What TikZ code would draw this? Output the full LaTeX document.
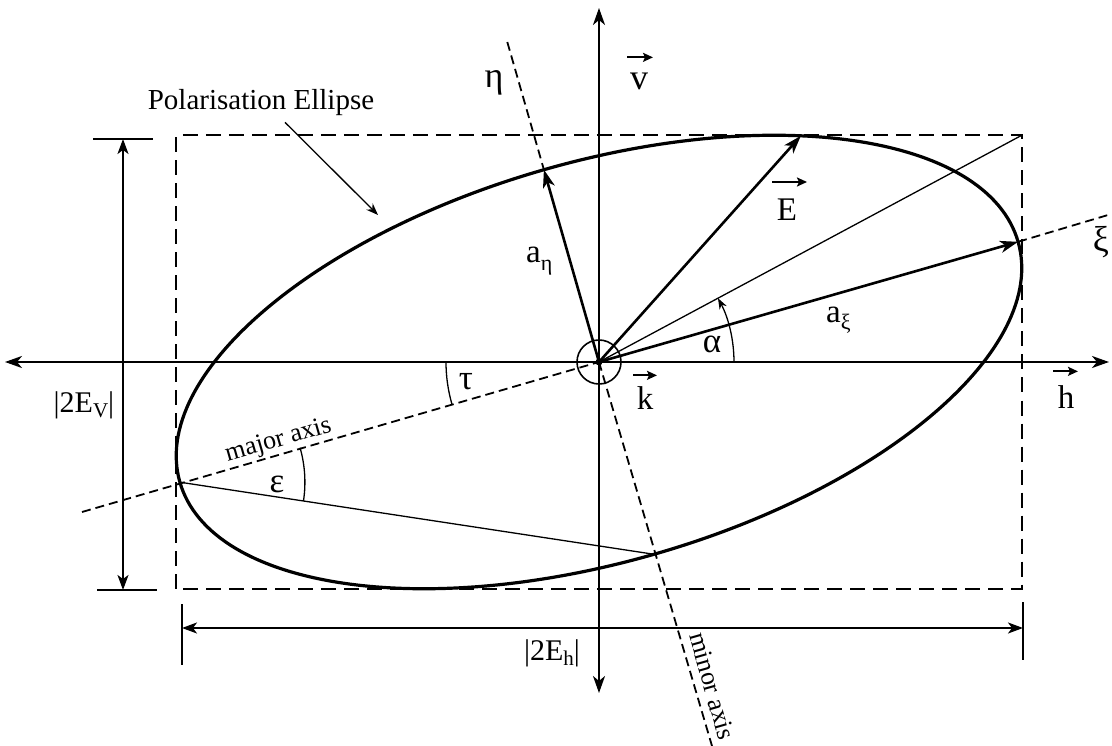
\documentclass[tikz,border=0pt]{standalone}
\usepackage{fontspec}
\setmainfont{Liberation Serif}
\usetikzlibrary{arrows.meta,calc}
\begin{document}
\begin{tikzpicture}[x=1pt,y=1pt,
  lbl/.style={font=\fontsize{33}{33}\selectfont, inner sep=0pt},
  axisline/.style={line width=2.2pt, {Stealth[length=17pt,width=12pt,inset=5pt]}-{Stealth[length=17pt,width=12pt,inset=5pt]}},
  vecarrow/.style={line width=2.6pt, -{Stealth[length=18pt,width=12pt,inset=5pt]}},
  thinline/.style={line width=1.3pt},
  axdash/.style={line width=1.8pt, dash pattern=on 9pt off 5pt},
  rectdash/.style={line width=2pt, dash pattern=on 15pt off 8pt},
  dimarrow/.style={line width=1.8pt, {Stealth[length=15pt,width=11pt,inset=4pt]}-{Stealth[length=15pt,width=11pt,inset=4pt]}},
  vecsym/.style={line width=2pt, -{Stealth[length=10pt,width=9pt,inset=2pt]}},
  ]
\useasboundingbox (0,0) rectangle (1112,-746);
\coordinate (C) at (599,-362);
\coordinate (V1) at (1018.1,-241.8);
\coordinate (V2) at (179.9,-482.2);
\coordinate (M1) at (543.9,-169.7);
\coordinate (M2) at (654.1,-554.3);
\coordinate (Et) at (800.8,-135.9);
\coordinate (TR) at (1021.7,-135.3);
\coordinate (BL) at (176.3,-588.7);
\coordinate (hL) at (5,-362);
\coordinate (hR) at (1109,-362);
\coordinate (vT) at (599,-8);
\coordinate (vB) at (599,-693);
\coordinate (majL) at (82,-512);
\coordinate (majR) at (1108,-215);
\coordinate (minT) at (507.3,-42);
\coordinate (minB) at (712,-746);
\coordinate (peTip) at (378,-215);

% bounding rectangle of the ellipse
\draw[rectdash] (BL) rectangle (TR);
% polarisation ellipse
\draw[line width=3.2pt, rotate around={16:(C)}] (C) ellipse [x radius=436, y radius=200];
% dashed principal axes
\draw[axdash] (majL) -- (C);
\draw[axdash] (V1) -- (majR);
\draw[axdash] (minT) -- (M1);
\draw[axdash] (C) -- (minB);
% h and v axes
\draw[axisline] (hL) -- (hR);
\draw[axisline] (vB) -- (vT);
% thin lines
\draw[thinline] (C) -- (TR);
\draw[thinline] (V2) -- (M2);
% angle arcs
\draw[thinline] ($(C)+(180:153)$) arc[start angle=180, end angle=196, radius=153];
\draw[thinline, -{Stealth[length=11pt,width=8pt]}] ($(C)+(0:135)$) arc[start angle=0, end angle=28.2, radius=135];
\draw[thinline] ($(V2)+(-8.65:125)$) arc[start angle=-8.65, end angle=16, radius=125];
% vectors
\draw[vecarrow] (C) -- (V1);
\draw[vecarrow] (C) -- (M1);
\draw[vecarrow] (C) -- (Et);
% centre
\draw[line width=1.6pt] (C) circle[radius=22];
\fill (C) circle[radius=3.5];

% dimension lines
\coordinate (dvT) at (123,-139);
\coordinate (dvB) at (123,-590);
\draw[line width=1.8pt] (93,-139) -- (153,-139);
\draw[line width=1.8pt] (97,-590) -- (157,-590);
\draw[dimarrow] (dvB) -- (dvT);
\coordinate (dhL) at (182,-628);
\coordinate (dhR) at (1023,-628);
\draw[line width=1.8pt] (182,-604) -- (182,-665);
\draw[line width=1.8pt] (1023,-602) -- (1023,-660);
\draw[dimarrow] (dhL) -- (dhR);

% labels
\node[lbl, font=\fontsize{29}{29}\selectfont] (pe) at (261,-103) {Polarisation Ellipse};
\draw[thinline, -{Stealth[length=12pt,width=9pt]}] ([xshift=24pt,yshift=-6pt]pe.south) -- (peTip);
\node[lbl, font=\fontsize{36}{36}\selectfont] (eta) at (494,-83) {η};
\node[lbl, font=\fontsize{36}{36}\selectfont] (xi) at (1101,-242) {ξ};
\node[lbl, font=\fontsize{36}{36}\selectfont] (v) at (639,-81) {v};
\node[lbl] (E) at (787,-210) {E};
\node[lbl] (k) at (645,-398) {k};
\node[lbl] (h) at (1066,-397) {h};
\node[lbl, font=\fontsize{35}{35}\selectfont] (al) at (712,-344) {α};
\node[lbl, font=\fontsize{35}{35}\selectfont] (tau) at (466,-382) {τ};
\node[lbl, font=\fontsize{35}{35}\selectfont] (eps) at (277,-484) {ε};
\node[lbl, anchor=base west] (axi) at (826,-323) {a\raisebox{-7pt}{\fontsize{22}{22}\selectfont ξ}};
\node[lbl, anchor=base west] (aeta) at (526,-263) {a\raisebox{-8pt}{\fontsize{22}{22}\selectfont η}};
\node[lbl, font=\fontsize{30}{30}\selectfont] (Ev) at (84,-405) {|2E\raisebox{-5pt}{\fontsize{21}{21}\selectfont V}|};
\node[lbl, font=\fontsize{30}{30}\selectfont] (Eh) at (552,-653) {|2E\raisebox{-5pt}{\fontsize{21}{21}\selectfont h}|};
\node[lbl, font=\fontsize{26}{26}\selectfont, rotate=16, anchor=south, inner sep=1pt] (maj) at (282,-452.9) {major axis};
\node[lbl, font=\fontsize{26}{26}\selectfont, rotate=-74, anchor=south, inner sep=5pt] (min) at (699,-690) {minor axis};
% vector arrows over symbols
\draw[vecsym] ([xshift=-12pt,yshift=15pt]v.north) -- ++(26,0);
\draw[vecsym] ([xshift=-15pt,yshift=17pt]E.north) -- ++(35,0);
\draw[vecsym] ([xshift=-12pt,yshift=11pt]k.north) -- ++(24,0);
\draw[vecsym] ([xshift=-13pt,yshift=14pt]h.north) -- ++(25,0);
\end{tikzpicture}
\end{document}
